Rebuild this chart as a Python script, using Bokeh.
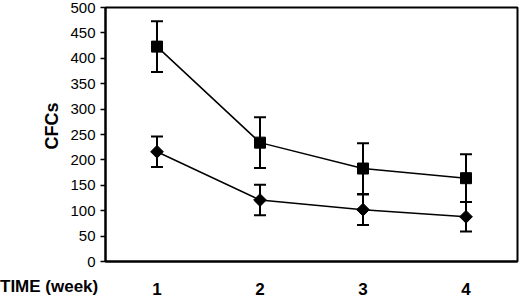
import numpy as np
from bokeh.plotting import figure
from bokeh.layouts import column
from bokeh.models import ColumnDataSource, Whisker, TeeHead, FixedTicker, Title, Div
from bokeh.embed import file_html
from bokeh.resources import INLINE

weeks = [1, 2, 3, 4]
square_vals = [423, 234, 183, 164]
square_err = [50, 50, 50, 47]
diamond_vals = [216, 121, 102, 88]
diamond_err = [30, 30, 30, 29]
y_ticks = [0, 50, 100, 150, 200, 250, 300, 350, 400, 450, 500]
x_title = "TIME (week)"
y_title = "CFCs"

p = figure(width=520, height=298, output_backend="svg", toolbar_location=None,
           x_range=(0.5, 4.5), y_range=(0, 500),
           min_border_left=105, min_border_right=3, min_border_top=7, min_border_bottom=37)
p.grid.visible = False
p.outline_line_color = "black"
p.outline_line_width = 2
p.background_fill_color = "white"
p.border_fill_color = "white"

# y axis
p.yaxis.ticker = FixedTicker(ticks=y_ticks)
p.yaxis.axis_line_width = 2
p.yaxis.major_tick_line_width = 1.5
p.yaxis.major_tick_out = 5
p.yaxis.major_tick_in = 0
p.yaxis.minor_tick_line_color = None
p.yaxis.major_label_text_font = "Liberation Sans"
p.yaxis.major_label_text_font_size = "15px"
p.yaxis.major_label_text_color = "black"
p.yaxis.major_label_standoff = 5

# x axis
p.xaxis.ticker = FixedTicker(ticks=weeks)
p.xaxis.axis_line_width = 2
p.xaxis.major_tick_line_color = None
p.xaxis.minor_tick_line_color = None
p.xaxis.major_label_text_font = "Liberation Sans"
p.xaxis.major_label_text_font_style = "bold"
p.xaxis.major_label_text_font_size = "17px"
p.xaxis.major_label_text_color = "black"
p.xaxis.major_label_standoff = 15

for vals, errs, marker, size, angle in [
    (square_vals, square_err, "square", 11, 0.0),
    (diamond_vals, diamond_err, "square", 9, np.pi / 4),
]:
    v = np.array(vals, dtype=float)
    e = np.array(errs, dtype=float)
    src = ColumnDataSource(dict(x=weeks, y=v, upper=v + e, lower=v - e))
    w = Whisker(source=src, base="x", upper="upper", lower="lower",
                line_color="black", line_width=2,
                upper_head=TeeHead(size=12, line_color="black", line_width=2),
                lower_head=TeeHead(size=12, line_color="black", line_width=2))
    p.add_layout(w)
    p.line("x", "y", source=src, line_color="black", line_width=1.5)
    p.scatter("x", "y", source=src, marker=marker, size=size, angle=angle,
              fill_color="black", line_color="black")

p.add_layout(Title(text=y_title, align="left", offset=112, standoff=12,
                   text_font="Liberation Sans", text_font_style="bold",
                   text_font_size="18px", text_color="black"), "left")

div = Div(text=x_title, width=110, height=20, margin=(-21, 0, 0, 0),
          styles={"font-family": "Liberation Sans", "font-weight": "bold",
                  "font-size": "17px", "line-height": "20px", "color": "black",
                  "white-space": "nowrap"})

layout = column(p, div, spacing=0)
open("out.html", "w").write(file_html(layout, INLINE))
